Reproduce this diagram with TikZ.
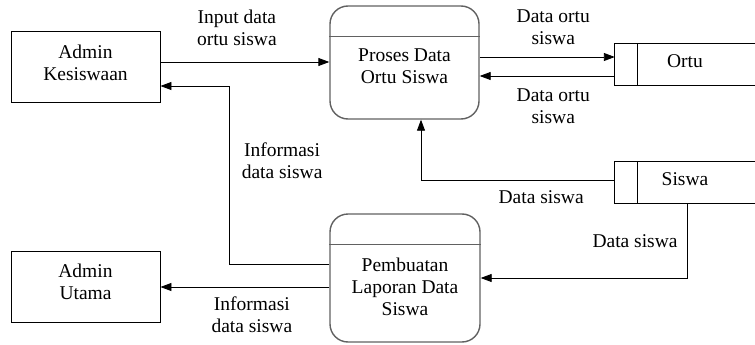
\documentclass[tikz,border=0pt]{standalone}
\usepackage{fontspec}
\setmainfont{Liberation Serif}
\usetikzlibrary{arrows.meta}

\tikzset{
  entity/.style={draw, line width=0.9pt, minimum width=149pt, minimum height=71pt, inner sep=0pt, align=center},
  proc/.style={draw=black!62, line width=1.4pt, rounded corners=18pt, minimum width=149pt, inner sep=0pt, align=center},
  store/.style={minimum width=140pt, minimum height=42pt, inner sep=0pt, text depth=6pt},
  flow/.style={line width=0.9pt, -{Triangle[length=11pt,width=8pt]}},
  lbl/.style={inner sep=0pt, align=center},
}

\begin{document}
\begin{tikzpicture}[x=1pt, y=-1pt, font=\fontsize{19.5}{22}\selectfont]
  \useasboundingbox (0,0) rectangle (755,345);

  % external entities
  \node[entity, text depth=7.7pt] (ak) at (85.5,66.5) {Admin\\Kesiswaan};
  \node[entity, text depth=9.7pt] (au) at (85.5,286.5) {Admin\\Utama};

  % processes
  \node[proc, minimum height=113pt, text height=42.2pt] (proses) at (404.5,62.5) {Proses Data\\Ortu Siswa};
  \node[proc, minimum width=150pt, minimum height=128pt, text height=74.6pt] (pb) at (405,278) {Pembuatan\\Laporan Data\\Siswa};
  \foreach \p in {proses,pb}
    \draw[draw=black!62, line width=1.4pt] ([yshift=-31pt]\p.north west) -- ([yshift=-31pt]\p.north east);

  % data stores
  \node[store] (ortu) at (685,64.5) {Ortu};
  \node[store] (siswa) at (685,182.5) {Siswa};
  \foreach \s in {ortu,siswa}{
    \draw[line width=0.9pt] (\s.north east) -- (\s.north west) -- (\s.south west) -- (\s.south east);
    \draw[line width=0.9pt] ([xshift=23pt]\s.north west) -- ([xshift=23pt]\s.south west);
  }

  % data flows
  \draw[flow] ([yshift=4.5pt]ak.east) --
    node[lbl, above=15.5pt, xshift=-8pt] (l1) {Input data\\ortu siswa}
    ([yshift=4.5pt]ak.east -| proses.west);
  \draw[flow] ([yshift=14pt]pb.west) -- ++(-100pt,0) |-
    node[lbl, pos=0.29, right=12pt] (l2) {Informasi\\data siswa}
    ([yshift=-19.5pt]ak.east);
  \draw[flow] ([yshift=5.5pt]proses.east) --
    node[lbl, above=12pt, xshift=6pt] (l3) {Data ortu\\siswa}
    ([yshift=5.5pt]proses.east -| ortu.west);
  \draw[flow] ([yshift=-13.5pt]proses.east -| ortu.west) --
    node[lbl, below=12pt, xshift=6pt] (l4) {Data ortu\\siswa}
    ([yshift=-13.5pt]proses.east);
  \draw[flow] ([yshift=2.5pt]siswa.west) -|
    node[lbl, pos=0.19, below=10pt] (l5) {Data siswa}
    ([xshift=16.5pt]proses.south);
  \draw[flow] ([xshift=2pt]siswa.south) |-
    node[lbl, pos=0.25, left=9pt] (l6) {Data siswa}
    (pb.east);
  \draw[flow] ([yshift=-9pt]pb.west) --
    node[lbl, below=9.5pt, xshift=7pt] (l7) {Informasi\\data siswa}
    ([yshift=-9pt]pb.west -| au.east);

\end{tikzpicture}
\end{document}
